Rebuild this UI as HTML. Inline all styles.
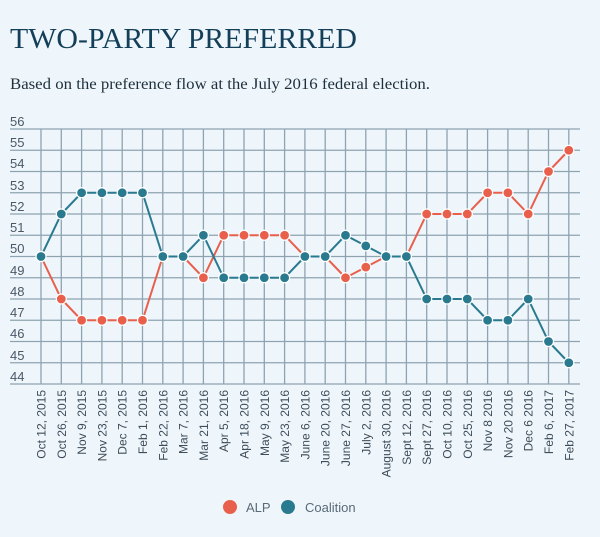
<!DOCTYPE html>
<html><head><meta charset="utf-8"><style>
html,body{margin:0;padding:0;background:#eef6fc;}
svg{display:block;}
</style></head><body>
<svg id="s" width="600" height="537" xmlns="http://www.w3.org/2000/svg">
<rect width="600" height="537" fill="#eef6fc"/>
<text x="10" y="48" font-family="Liberation Serif, serif" font-size="29" fill="#143f58" textLength="347" lengthAdjust="spacingAndGlyphs">TWO-PARTY PREFERRED</text>
<text x="10" y="89" font-family="Liberation Serif, serif" font-size="16" fill="#1e2e3a" textLength="420" lengthAdjust="spacingAndGlyphs">Based on the preference flow at the July 2016 federal election.</text>
<g id="grid" stroke="#8ea3b0" stroke-width="1.3"></g>
<g font-family="Liberation Sans, sans-serif" font-size="13" fill="#4a5866">
<text x="10" y="126">56</text><text x="10" y="147">55</text><text x="10" y="168">54</text><text x="10" y="190">53</text><text x="10" y="211">52</text><text x="10" y="232">51</text><text x="10" y="253">50</text><text x="10" y="275">49</text><text x="10" y="296">48</text><text x="10" y="317">47</text><text x="10" y="338">46</text><text x="10" y="360">45</text><text x="10" y="381">44</text>
</g>
<g font-family="Liberation Sans, sans-serif" font-size="12" fill="#3e4c58" text-anchor="end">
<text transform="translate(45.5,390) rotate(-90)">Oct 12, 2015</text>
<text transform="translate(65.8,390) rotate(-90)">Oct 26, 2015</text>
<text transform="translate(86.1,390) rotate(-90)">Nov 9, 2015</text>
<text transform="translate(106.4,390) rotate(-90)">Nov 23, 2015</text>
<text transform="translate(126.7,390) rotate(-90)">Dec 7, 2015</text>
<text transform="translate(147,390) rotate(-90)">Feb 1, 2016</text>
<text transform="translate(167.3,390) rotate(-90)">Feb 22, 2016</text>
<text transform="translate(187.6,390) rotate(-90)">Mar 7, 2016</text>
<text transform="translate(207.9,390) rotate(-90)">Mar 21, 2016</text>
<text transform="translate(228.2,390) rotate(-90)">Apr 5, 2016</text>
<text transform="translate(248.5,390) rotate(-90)">Apr 18, 2016</text>
<text transform="translate(268.8,390) rotate(-90)">May 9, 2016</text>
<text transform="translate(289.1,390) rotate(-90)">May 23, 2016</text>
<text transform="translate(309.4,390) rotate(-90)">June 6, 2016</text>
<text transform="translate(329.7,390) rotate(-90)">June 20, 2016</text>
<text transform="translate(350,390) rotate(-90)">June 27, 2016</text>
<text transform="translate(370.3,390) rotate(-90)">July 2, 2016</text>
<text transform="translate(390.6,390) rotate(-90)">August 30, 2016</text>
<text transform="translate(410.9,390) rotate(-90)">Sept 12, 2016</text>
<text transform="translate(431.2,390) rotate(-90)">Sept 27, 2016</text>
<text transform="translate(451.5,390) rotate(-90)">Oct 10, 2016</text>
<text transform="translate(471.8,390) rotate(-90)">Oct 25, 2016</text>
<text transform="translate(492.1,390) rotate(-90)">Nov 8 2016</text>
<text transform="translate(512.4,390) rotate(-90)">Nov 20 2016</text>
<text transform="translate(532.7,390) rotate(-90)">Dec 6 2016</text>
<text transform="translate(553,390) rotate(-90)">Feb 6, 2017</text>
<text transform="translate(573.3,390) rotate(-90)">Feb 27, 2017</text>
</g>
<g id="series"></g>
<circle cx="230" cy="507" r="7" fill="#e8604c"/>
<text x="246" y="512" font-family="Liberation Sans, sans-serif" font-size="13" fill="#5a6a78">ALP</text>
<circle cx="288" cy="507" r="7" fill="#2a7a8f"/>
<text x="305" y="512" font-family="Liberation Sans, sans-serif" font-size="13" fill="#5a6a78">Coalition</text>
<script>
(function(){
var ns="http://www.w3.org/2000/svg";
function el(t,a,p){var e=document.createElementNS(ns,t);for(var k in a)e.setAttribute(k,a[k]);p.appendChild(e);return e;}
var g=document.getElementById('grid');
function X(i){return 41+i*20.3;}
function Y(v){return 129+(56-v)*21.25;}
for(var v=44;v<=56;v++)el('line',{x1:10,x2:580,y1:Y(v),y2:Y(v)},g);
for(var i=0;i<27;i++)el('line',{x1:X(i),x2:X(i),y1:129,y2:384},g);
var alp=[50,48,47,47,47,47,50,50,49,51,51,51,51,50,50,49,49.5,50,50,52,52,52,53,53,52,54,55];
var coa=[50,52,53,53,53,53,50,50,51,49,49,49,49,50,50,51,50.5,50,50,48,48,48,47,47,48,46,45];
var s=document.getElementById('series');
[[alp,'#e8604c'],[coa,'#2a7a8f']].forEach(function(d){
 var pts=d[0].map(function(v,i){return X(i)+','+Y(v);}).join(' ');
 el('polyline',{points:pts,fill:'none',stroke:d[1],'stroke-width':2},s);
});
[[alp,'#e8604c'],[coa,'#2a7a8f']].forEach(function(d){
 d[0].forEach(function(v,i){el('circle',{cx:X(i),cy:Y(v),r:5,fill:d[1],stroke:'#ffffff','stroke-width':1.2},s);});
});
})();
</script>
</svg>
</body></html>
